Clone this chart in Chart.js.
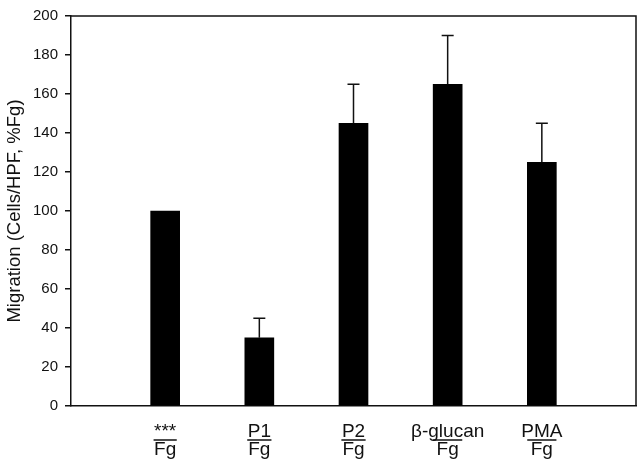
<!DOCTYPE html>
<html>
<head>
<meta charset="utf-8">
<script src="https://cdn.jsdelivr.net/npm/chart.js@4"></script>
<style>
  html, body { margin: 0; padding: 0; background: #fff; }
  #wrap { width: 640px; height: 463px; }
</style>
</head>
<body>
<div id="wrap"><canvas id="c" width="640" height="463"></canvas></div>
<script>
// ---- Data ----
const numerators   = ['***', 'P1', 'P2', 'β-glucan', 'PMA'];
const denominators = ['Fg', 'Fg', 'Fg', 'Fg', 'Fg'];
const values       = [100, 35, 145, 165, 125];
const errors       = [0, 10, 20, 25, 20];
const yTicks       = [0, 20, 40, 60, 80, 100, 120, 140, 160, 180, 200];
const yTitle       = 'Migration (Cells/HPF, %Fg)';

// padded category list (empty slot at each end)
const labels = [''].concat(numerators.map((n, i) => n + '/' + denominators[i])).concat(['']);
const data = [null].concat(values).concat([null]);
const errData = [null].concat(errors).concat([null]);

const FONT = '"Liberation Sans", Arial, Helvetica, sans-serif';

const errorBars = {
  id: 'errorBars',
  afterDatasetsDraw(chart) {
    const meta = chart.getDatasetMeta(0);
    const y = chart.scales.y;
    const ctx = chart.ctx;
    ctx.save();
    ctx.strokeStyle = '#111';
    ctx.lineWidth = 1.5;
    meta.data.forEach((bar, i) => {
      const v = data[i], e = errData[i];
      if (v == null || !e) return;
      const x = bar.x;
      const y0 = y.getPixelForValue(v);
      const y1 = y.getPixelForValue(v + e);
      ctx.beginPath();
      ctx.moveTo(x, y0);
      ctx.lineTo(x, y1);
      ctx.moveTo(x - 6, y1);
      ctx.lineTo(x + 6, y1);
      ctx.stroke();
    });
    ctx.restore();
  }
};

const frameAndLabels = {
  id: 'frameAndLabels',
  afterDraw(chart) {
    const ctx = chart.ctx;
    const a = chart.chartArea;
    const xs = chart.scales.x;
    ctx.save();
    // top and right frame
    ctx.strokeStyle = '#111';
    ctx.lineWidth = 1.5;
    ctx.beginPath();
    ctx.moveTo(a.left, a.top);
    ctx.lineTo(a.right, a.top);
    ctx.lineTo(a.right, a.bottom);
    ctx.stroke();
    // fraction-style x labels
    ctx.fillStyle = '#111';
    ctx.font = '19px ' + FONT;
    ctx.textAlign = 'center';
    ctx.textBaseline = 'alphabetic';
    numerators.forEach((num, i) => {
      const x = xs.getPixelForValue(i + 1);
      const den = denominators[i];
      ctx.fillText(num, x, a.bottom + 31);
      ctx.fillText(den, x, a.bottom + 49);
      const nw = ctx.measureText(num).width;
      const dw = ctx.measureText(den).width;
      const lw = nw > 40 ? dw + 7 : Math.max(nw, dw) + 1;
      ctx.lineWidth = 1.5;
      ctx.beginPath();
      ctx.moveTo(x - lw / 2, a.bottom + 34);
      ctx.lineTo(x + lw / 2, a.bottom + 34);
      ctx.stroke();
    });
    ctx.restore();
  }
};

new Chart(document.getElementById('c'), {
  type: 'bar',
  data: {
    labels: labels,
    datasets: [{
      data: data,
      backgroundColor: '#000',
      borderWidth: 0,
      barThickness: 29
    }]
  },
  options: {
    responsive: false,
    animation: false,
    devicePixelRatio: 1,
    layout: { padding: { left: 0, right: 4, top: 9, bottom: 0 } },
    plugins: { legend: { display: false }, tooltip: { enabled: false } },
    scales: {
      x: {
        type: 'category',
        offset: false,
        grid: { display: false, drawTicks: false },
        border: { display: true, color: '#111', width: 1.5 },
        ticks: { display: false },
        afterFit(scale) { scale.height = 57; }
      },
      y: {
        min: 0,
        max: 200,
        afterBuildTicks(scale) { scale.ticks = yTicks.map(v => ({ value: v })); },
        grid: { display: true, drawOnChartArea: false, drawTicks: true, tickLength: 6, color: '#111', lineWidth: 1.5 },
        border: { display: true, color: '#111', width: 1.5 },
        ticks: {
          color: '#111',
          padding: 7,
          font: { family: FONT, size: 15 }
        },
        title: {
          display: true,
          text: yTitle,
          color: '#111',
          font: { family: FONT, size: 18.5 },
          padding: { top: 4, bottom: 0 }
        },
        afterFit(scale) { scale.width = 71; }
      }
    }
  },
  plugins: [errorBars, frameAndLabels]
});
</script>
</body>
</html>
